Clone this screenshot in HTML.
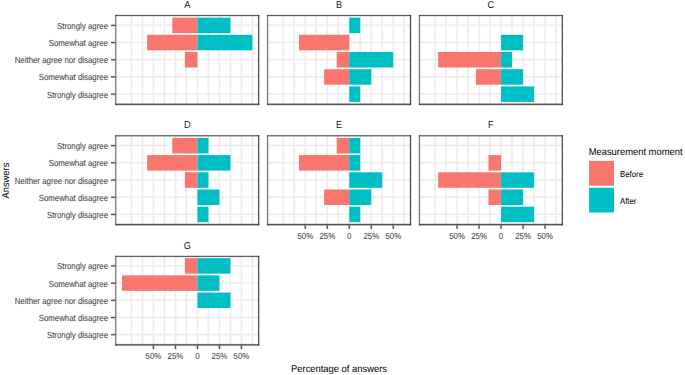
<!DOCTYPE html>
<html><head><meta charset="utf-8"><style>
html,body{margin:0;padding:0;background:#fff;width:685px;height:375px;overflow:hidden}
svg{display:block;font-family:"Liberation Sans",sans-serif;text-rendering:geometricPrecision}
</style></head><body>
<svg width="685" height="375" viewBox="0 0 685 375" shape-rendering="auto">
<rect width="685" height="375" fill="#fff"/>
<rect x="130" y="15.5" width="1" height="88.82" fill="#EBEBEB" fill-opacity="0.375"/><rect x="131" y="15.5" width="1" height="88.82" fill="#EBEBEB" fill-opacity="0.922"/><rect x="132" y="15.5" width="1" height="88.82" fill="#EBEBEB" fill-opacity="0.297"/><rect x="141" y="15.5" width="1" height="88.82" fill="#EBEBEB" fill-opacity="0.375"/><rect x="142" y="15.5" width="1" height="88.82" fill="#EBEBEB" fill-opacity="0.922"/><rect x="143" y="15.5" width="1" height="88.82" fill="#EBEBEB" fill-opacity="0.297"/><rect x="152" y="15.5" width="1" height="88.82" fill="#EBEBEB" fill-opacity="0.375"/><rect x="153" y="15.5" width="1" height="88.82" fill="#EBEBEB" fill-opacity="0.922"/><rect x="154" y="15.5" width="1" height="88.82" fill="#EBEBEB" fill-opacity="0.297"/><rect x="163" y="15.5" width="1" height="88.82" fill="#EBEBEB" fill-opacity="0.375"/><rect x="164" y="15.5" width="1" height="88.82" fill="#EBEBEB" fill-opacity="0.922"/><rect x="165" y="15.5" width="1" height="88.82" fill="#EBEBEB" fill-opacity="0.297"/><rect x="174" y="15.5" width="1" height="88.82" fill="#EBEBEB" fill-opacity="0.375"/><rect x="175" y="15.5" width="1" height="88.82" fill="#EBEBEB" fill-opacity="0.922"/><rect x="176" y="15.5" width="1" height="88.82" fill="#EBEBEB" fill-opacity="0.297"/><rect x="185" y="15.5" width="1" height="88.82" fill="#EBEBEB" fill-opacity="0.375"/><rect x="186" y="15.5" width="1" height="88.82" fill="#EBEBEB" fill-opacity="0.922"/><rect x="187" y="15.5" width="1" height="88.82" fill="#EBEBEB" fill-opacity="0.297"/><rect x="196" y="15.5" width="1" height="88.82" fill="#EBEBEB" fill-opacity="0.375"/><rect x="197" y="15.5" width="1" height="88.82" fill="#EBEBEB" fill-opacity="0.922"/><rect x="198" y="15.5" width="1" height="88.82" fill="#EBEBEB" fill-opacity="0.297"/><rect x="207" y="15.5" width="1" height="88.82" fill="#EBEBEB" fill-opacity="0.375"/><rect x="208" y="15.5" width="1" height="88.82" fill="#EBEBEB" fill-opacity="0.922"/><rect x="209" y="15.5" width="1" height="88.82" fill="#EBEBEB" fill-opacity="0.297"/><rect x="218" y="15.5" width="1" height="88.82" fill="#EBEBEB" fill-opacity="0.375"/><rect x="219" y="15.5" width="1" height="88.82" fill="#EBEBEB" fill-opacity="0.922"/><rect x="220" y="15.5" width="1" height="88.82" fill="#EBEBEB" fill-opacity="0.297"/><rect x="229" y="15.5" width="1" height="88.82" fill="#EBEBEB" fill-opacity="0.375"/><rect x="230" y="15.5" width="1" height="88.82" fill="#EBEBEB" fill-opacity="0.922"/><rect x="231" y="15.5" width="1" height="88.82" fill="#EBEBEB" fill-opacity="0.297"/><rect x="240" y="15.5" width="1" height="88.82" fill="#EBEBEB" fill-opacity="0.375"/><rect x="241" y="15.5" width="1" height="88.82" fill="#EBEBEB" fill-opacity="0.922"/><rect x="242" y="15.5" width="1" height="88.82" fill="#EBEBEB" fill-opacity="0.297"/><rect x="251" y="15.5" width="1" height="88.82" fill="#EBEBEB" fill-opacity="0.375"/><rect x="252" y="15.5" width="1" height="88.82" fill="#EBEBEB" fill-opacity="0.922"/><rect x="253" y="15.5" width="1" height="88.82" fill="#EBEBEB" fill-opacity="0.297"/><rect x="115.79" y="23" width="142.91" height="1" fill="#EBEBEB" fill-opacity="0.022"/><rect x="115.79" y="24" width="142.91" height="1" fill="#EBEBEB" fill-opacity="0.584"/><rect x="115.79" y="25" width="142.91" height="1" fill="#EBEBEB" fill-opacity="0.854"/><rect x="115.79" y="26" width="142.91" height="1" fill="#EBEBEB" fill-opacity="0.139"/><rect x="115.79" y="41" width="142.91" height="1" fill="#EBEBEB" fill-opacity="0.416"/><rect x="115.79" y="42" width="142.91" height="1" fill="#EBEBEB" fill-opacity="0.916"/><rect x="115.79" y="43" width="142.91" height="1" fill="#EBEBEB" fill-opacity="0.260"/><rect x="115.79" y="58" width="142.91" height="1" fill="#EBEBEB" fill-opacity="0.260"/><rect x="115.79" y="59" width="142.91" height="1" fill="#EBEBEB" fill-opacity="0.916"/><rect x="115.79" y="60" width="142.91" height="1" fill="#EBEBEB" fill-opacity="0.416"/><rect x="115.79" y="75" width="142.91" height="1" fill="#EBEBEB" fill-opacity="0.139"/><rect x="115.79" y="76" width="142.91" height="1" fill="#EBEBEB" fill-opacity="0.854"/><rect x="115.79" y="77" width="142.91" height="1" fill="#EBEBEB" fill-opacity="0.584"/><rect x="115.79" y="78" width="142.91" height="1" fill="#EBEBEB" fill-opacity="0.022"/><rect x="115.79" y="92" width="142.91" height="1" fill="#EBEBEB" fill-opacity="0.062"/><rect x="115.79" y="93" width="142.91" height="1" fill="#EBEBEB" fill-opacity="0.738"/><rect x="115.79" y="94" width="142.91" height="1" fill="#EBEBEB" fill-opacity="0.738"/><rect x="115.79" y="95" width="142.91" height="1" fill="#EBEBEB" fill-opacity="0.062"/>
<rect x="172.31" y="17.61" width="25.14" height="15.48" fill="#F8766D"/>
<rect x="197.45" y="17.61" width="33" height="15.48" fill="#00BFC4"/>
<rect x="147.16" y="34.81" width="50.29" height="15.48" fill="#F8766D"/>
<rect x="197.45" y="34.81" width="55" height="15.48" fill="#00BFC4"/>
<rect x="184.88" y="52.01" width="12.57" height="15.48" fill="#F8766D"/>
<rect x="114" y="15" width="1" height="90.02" fill="#333333" fill-opacity="0.024"/><rect x="115" y="15" width="1" height="90.02" fill="#333333" fill-opacity="0.576"/><rect x="116" y="15" width="1" height="90.02" fill="#333333" fill-opacity="0.269"/>
<rect x="257" y="15" width="1" height="90.02" fill="#333333" fill-opacity="0.030"/><rect x="258" y="15" width="1" height="90.02" fill="#333333" fill-opacity="0.827"/><rect x="259" y="15" width="1" height="90.02" fill="#333333" fill-opacity="0.274"/>
<rect x="115.34" y="14" width="143.91" height="1" fill="#333333" fill-opacity="0.105"/><rect x="115.34" y="15" width="143.91" height="1" fill="#333333" fill-opacity="0.810"/><rect x="115.34" y="16" width="143.91" height="1" fill="#333333" fill-opacity="0.105"/>
<rect x="115.34" y="103" width="143.91" height="1" fill="#333333" fill-opacity="0.383"/><rect x="115.34" y="104" width="143.91" height="1" fill="#333333" fill-opacity="0.833"/><rect x="115.34" y="105" width="143.91" height="1" fill="#333333" fill-opacity="0.139"/>
<text transform="translate(187.25,7.95) scale(1,1.1)" text-anchor="middle" font-size="9.2" fill="#1A1A1A">A</text>
<rect x="111" y="24" width="4.39" height="1" fill="#333333" fill-opacity="0.315"/><rect x="111" y="25" width="4.39" height="1" fill="#333333" fill-opacity="0.805"/><rect x="111" y="26" width="4.39" height="1" fill="#333333" fill-opacity="0.127"/>
<text transform="translate(108,28.85) scale(1,1.12)" text-anchor="end" font-size="7.85" fill="#4D4D4D" stroke="#4D4D4D" stroke-width="0.1">Strongly agree</text>
<rect x="111" y="41" width="4.39" height="1" fill="#333333" fill-opacity="0.180"/><rect x="111" y="42" width="4.39" height="1" fill="#333333" fill-opacity="0.826"/><rect x="111" y="43" width="4.39" height="1" fill="#333333" fill-opacity="0.243"/>
<text transform="translate(108,46.05) scale(1,1.12)" text-anchor="end" font-size="7.85" fill="#4D4D4D" stroke="#4D4D4D" stroke-width="0.1">Somewhat agree</text>
<rect x="111" y="58" width="4.39" height="1" fill="#333333" fill-opacity="0.086"/><rect x="111" y="59" width="4.39" height="1" fill="#333333" fill-opacity="0.764"/><rect x="111" y="60" width="4.39" height="1" fill="#333333" fill-opacity="0.395"/>
<text transform="translate(108,63.25) scale(1,1.12)" text-anchor="end" font-size="7.85" fill="#4D4D4D" stroke="#4D4D4D" stroke-width="0.1">Neither agree nor disagree</text>
<rect x="111" y="75" width="4.39" height="1" fill="#333333" fill-opacity="0.033"/><rect x="111" y="76" width="4.39" height="1" fill="#333333" fill-opacity="0.638"/><rect x="111" y="77" width="4.39" height="1" fill="#333333" fill-opacity="0.560"/><rect x="111" y="78" width="4.39" height="1" fill="#333333" fill-opacity="0.019"/>
<text transform="translate(108,80.45) scale(1,1.12)" text-anchor="end" font-size="7.85" fill="#4D4D4D" stroke="#4D4D4D" stroke-width="0.1">Somewhat disagree</text>
<rect x="111" y="92" width="4.39" height="1" fill="#333333" fill-opacity="0.010"/><rect x="111" y="93" width="4.39" height="1" fill="#333333" fill-opacity="0.477"/><rect x="111" y="94" width="4.39" height="1" fill="#333333" fill-opacity="0.708"/><rect x="111" y="95" width="4.39" height="1" fill="#333333" fill-opacity="0.055"/>
<text transform="translate(108,97.65) scale(1,1.12)" text-anchor="end" font-size="7.85" fill="#4D4D4D" stroke="#4D4D4D" stroke-width="0.1">Strongly disagree</text>
<rect x="281" y="15.5" width="1" height="88.82" fill="#EBEBEB" fill-opacity="0.016"/><rect x="282" y="15.5" width="1" height="88.82" fill="#EBEBEB" fill-opacity="0.542"/><rect x="283" y="15.5" width="1" height="88.82" fill="#EBEBEB" fill-opacity="0.875"/><rect x="284" y="15.5" width="1" height="88.82" fill="#EBEBEB" fill-opacity="0.166"/><rect x="292" y="15.5" width="1" height="88.82" fill="#EBEBEB" fill-opacity="0.016"/><rect x="293" y="15.5" width="1" height="88.82" fill="#EBEBEB" fill-opacity="0.542"/><rect x="294" y="15.5" width="1" height="88.82" fill="#EBEBEB" fill-opacity="0.875"/><rect x="295" y="15.5" width="1" height="88.82" fill="#EBEBEB" fill-opacity="0.166"/><rect x="303" y="15.5" width="1" height="88.82" fill="#EBEBEB" fill-opacity="0.016"/><rect x="304" y="15.5" width="1" height="88.82" fill="#EBEBEB" fill-opacity="0.542"/><rect x="305" y="15.5" width="1" height="88.82" fill="#EBEBEB" fill-opacity="0.875"/><rect x="306" y="15.5" width="1" height="88.82" fill="#EBEBEB" fill-opacity="0.166"/><rect x="314" y="15.5" width="1" height="88.82" fill="#EBEBEB" fill-opacity="0.016"/><rect x="315" y="15.5" width="1" height="88.82" fill="#EBEBEB" fill-opacity="0.542"/><rect x="316" y="15.5" width="1" height="88.82" fill="#EBEBEB" fill-opacity="0.875"/><rect x="317" y="15.5" width="1" height="88.82" fill="#EBEBEB" fill-opacity="0.166"/><rect x="325" y="15.5" width="1" height="88.82" fill="#EBEBEB" fill-opacity="0.016"/><rect x="326" y="15.5" width="1" height="88.82" fill="#EBEBEB" fill-opacity="0.542"/><rect x="327" y="15.5" width="1" height="88.82" fill="#EBEBEB" fill-opacity="0.875"/><rect x="328" y="15.5" width="1" height="88.82" fill="#EBEBEB" fill-opacity="0.166"/><rect x="336" y="15.5" width="1" height="88.82" fill="#EBEBEB" fill-opacity="0.016"/><rect x="337" y="15.5" width="1" height="88.82" fill="#EBEBEB" fill-opacity="0.542"/><rect x="338" y="15.5" width="1" height="88.82" fill="#EBEBEB" fill-opacity="0.875"/><rect x="339" y="15.5" width="1" height="88.82" fill="#EBEBEB" fill-opacity="0.166"/><rect x="347" y="15.5" width="1" height="88.82" fill="#EBEBEB" fill-opacity="0.016"/><rect x="348" y="15.5" width="1" height="88.82" fill="#EBEBEB" fill-opacity="0.542"/><rect x="349" y="15.5" width="1" height="88.82" fill="#EBEBEB" fill-opacity="0.875"/><rect x="350" y="15.5" width="1" height="88.82" fill="#EBEBEB" fill-opacity="0.166"/><rect x="358" y="15.5" width="1" height="88.82" fill="#EBEBEB" fill-opacity="0.016"/><rect x="359" y="15.5" width="1" height="88.82" fill="#EBEBEB" fill-opacity="0.542"/><rect x="360" y="15.5" width="1" height="88.82" fill="#EBEBEB" fill-opacity="0.875"/><rect x="361" y="15.5" width="1" height="88.82" fill="#EBEBEB" fill-opacity="0.166"/><rect x="369" y="15.5" width="1" height="88.82" fill="#EBEBEB" fill-opacity="0.016"/><rect x="370" y="15.5" width="1" height="88.82" fill="#EBEBEB" fill-opacity="0.542"/><rect x="371" y="15.5" width="1" height="88.82" fill="#EBEBEB" fill-opacity="0.875"/><rect x="372" y="15.5" width="1" height="88.82" fill="#EBEBEB" fill-opacity="0.166"/><rect x="380" y="15.5" width="1" height="88.82" fill="#EBEBEB" fill-opacity="0.016"/><rect x="381" y="15.5" width="1" height="88.82" fill="#EBEBEB" fill-opacity="0.542"/><rect x="382" y="15.5" width="1" height="88.82" fill="#EBEBEB" fill-opacity="0.875"/><rect x="383" y="15.5" width="1" height="88.82" fill="#EBEBEB" fill-opacity="0.166"/><rect x="391" y="15.5" width="1" height="88.82" fill="#EBEBEB" fill-opacity="0.016"/><rect x="392" y="15.5" width="1" height="88.82" fill="#EBEBEB" fill-opacity="0.542"/><rect x="393" y="15.5" width="1" height="88.82" fill="#EBEBEB" fill-opacity="0.875"/><rect x="394" y="15.5" width="1" height="88.82" fill="#EBEBEB" fill-opacity="0.166"/><rect x="402" y="15.5" width="1" height="88.82" fill="#EBEBEB" fill-opacity="0.016"/><rect x="403" y="15.5" width="1" height="88.82" fill="#EBEBEB" fill-opacity="0.542"/><rect x="404" y="15.5" width="1" height="88.82" fill="#EBEBEB" fill-opacity="0.875"/><rect x="405" y="15.5" width="1" height="88.82" fill="#EBEBEB" fill-opacity="0.166"/><rect x="267.59" y="23" width="142.91" height="1" fill="#EBEBEB" fill-opacity="0.022"/><rect x="267.59" y="24" width="142.91" height="1" fill="#EBEBEB" fill-opacity="0.584"/><rect x="267.59" y="25" width="142.91" height="1" fill="#EBEBEB" fill-opacity="0.854"/><rect x="267.59" y="26" width="142.91" height="1" fill="#EBEBEB" fill-opacity="0.139"/><rect x="267.59" y="41" width="142.91" height="1" fill="#EBEBEB" fill-opacity="0.416"/><rect x="267.59" y="42" width="142.91" height="1" fill="#EBEBEB" fill-opacity="0.916"/><rect x="267.59" y="43" width="142.91" height="1" fill="#EBEBEB" fill-opacity="0.260"/><rect x="267.59" y="58" width="142.91" height="1" fill="#EBEBEB" fill-opacity="0.260"/><rect x="267.59" y="59" width="142.91" height="1" fill="#EBEBEB" fill-opacity="0.916"/><rect x="267.59" y="60" width="142.91" height="1" fill="#EBEBEB" fill-opacity="0.416"/><rect x="267.59" y="75" width="142.91" height="1" fill="#EBEBEB" fill-opacity="0.139"/><rect x="267.59" y="76" width="142.91" height="1" fill="#EBEBEB" fill-opacity="0.854"/><rect x="267.59" y="77" width="142.91" height="1" fill="#EBEBEB" fill-opacity="0.584"/><rect x="267.59" y="78" width="142.91" height="1" fill="#EBEBEB" fill-opacity="0.022"/><rect x="267.59" y="92" width="142.91" height="1" fill="#EBEBEB" fill-opacity="0.062"/><rect x="267.59" y="93" width="142.91" height="1" fill="#EBEBEB" fill-opacity="0.738"/><rect x="267.59" y="94" width="142.91" height="1" fill="#EBEBEB" fill-opacity="0.738"/><rect x="267.59" y="95" width="142.91" height="1" fill="#EBEBEB" fill-opacity="0.062"/>
<rect x="349.25" y="17.61" width="11" height="15.48" fill="#00BFC4"/>
<rect x="298.96" y="34.81" width="50.29" height="15.48" fill="#F8766D"/>
<rect x="336.68" y="52.01" width="12.57" height="15.48" fill="#F8766D"/>
<rect x="349.25" y="52.01" width="44" height="15.48" fill="#00BFC4"/>
<rect x="324.11" y="69.21" width="25.14" height="15.48" fill="#F8766D"/>
<rect x="349.25" y="69.21" width="22" height="15.48" fill="#00BFC4"/>
<rect x="349.25" y="86.41" width="11" height="15.48" fill="#00BFC4"/>
<rect x="266" y="15" width="1" height="90.02" fill="#333333" fill-opacity="0.068"/><rect x="267" y="15" width="1" height="90.02" fill="#333333" fill-opacity="0.658"/><rect x="268" y="15" width="1" height="90.02" fill="#333333" fill-opacity="0.144"/>
<rect x="409" y="15" width="1" height="90.02" fill="#333333" fill-opacity="0.116"/><rect x="410" y="15" width="1" height="90.02" fill="#333333" fill-opacity="0.897"/><rect x="411" y="15" width="1" height="90.02" fill="#333333" fill-opacity="0.116"/>
<rect x="267.14" y="14" width="143.91" height="1" fill="#333333" fill-opacity="0.105"/><rect x="267.14" y="15" width="143.91" height="1" fill="#333333" fill-opacity="0.810"/><rect x="267.14" y="16" width="143.91" height="1" fill="#333333" fill-opacity="0.105"/>
<rect x="267.14" y="103" width="143.91" height="1" fill="#333333" fill-opacity="0.383"/><rect x="267.14" y="104" width="143.91" height="1" fill="#333333" fill-opacity="0.833"/><rect x="267.14" y="105" width="143.91" height="1" fill="#333333" fill-opacity="0.139"/>
<text transform="translate(339.05,7.95) scale(1,1.1)" text-anchor="middle" font-size="9.2" fill="#1A1A1A">B</text>
<rect x="433" y="15.5" width="1" height="88.82" fill="#EBEBEB" fill-opacity="0.049"/><rect x="434" y="15.5" width="1" height="88.82" fill="#EBEBEB" fill-opacity="0.702"/><rect x="435" y="15.5" width="1" height="88.82" fill="#EBEBEB" fill-opacity="0.772"/><rect x="436" y="15.5" width="1" height="88.82" fill="#EBEBEB" fill-opacity="0.077"/><rect x="444" y="15.5" width="1" height="88.82" fill="#EBEBEB" fill-opacity="0.049"/><rect x="445" y="15.5" width="1" height="88.82" fill="#EBEBEB" fill-opacity="0.702"/><rect x="446" y="15.5" width="1" height="88.82" fill="#EBEBEB" fill-opacity="0.772"/><rect x="447" y="15.5" width="1" height="88.82" fill="#EBEBEB" fill-opacity="0.077"/><rect x="455" y="15.5" width="1" height="88.82" fill="#EBEBEB" fill-opacity="0.049"/><rect x="456" y="15.5" width="1" height="88.82" fill="#EBEBEB" fill-opacity="0.702"/><rect x="457" y="15.5" width="1" height="88.82" fill="#EBEBEB" fill-opacity="0.772"/><rect x="458" y="15.5" width="1" height="88.82" fill="#EBEBEB" fill-opacity="0.077"/><rect x="466" y="15.5" width="1" height="88.82" fill="#EBEBEB" fill-opacity="0.049"/><rect x="467" y="15.5" width="1" height="88.82" fill="#EBEBEB" fill-opacity="0.702"/><rect x="468" y="15.5" width="1" height="88.82" fill="#EBEBEB" fill-opacity="0.772"/><rect x="469" y="15.5" width="1" height="88.82" fill="#EBEBEB" fill-opacity="0.077"/><rect x="477" y="15.5" width="1" height="88.82" fill="#EBEBEB" fill-opacity="0.049"/><rect x="478" y="15.5" width="1" height="88.82" fill="#EBEBEB" fill-opacity="0.702"/><rect x="479" y="15.5" width="1" height="88.82" fill="#EBEBEB" fill-opacity="0.772"/><rect x="480" y="15.5" width="1" height="88.82" fill="#EBEBEB" fill-opacity="0.077"/><rect x="488" y="15.5" width="1" height="88.82" fill="#EBEBEB" fill-opacity="0.049"/><rect x="489" y="15.5" width="1" height="88.82" fill="#EBEBEB" fill-opacity="0.702"/><rect x="490" y="15.5" width="1" height="88.82" fill="#EBEBEB" fill-opacity="0.772"/><rect x="491" y="15.5" width="1" height="88.82" fill="#EBEBEB" fill-opacity="0.077"/><rect x="499" y="15.5" width="1" height="88.82" fill="#EBEBEB" fill-opacity="0.049"/><rect x="500" y="15.5" width="1" height="88.82" fill="#EBEBEB" fill-opacity="0.702"/><rect x="501" y="15.5" width="1" height="88.82" fill="#EBEBEB" fill-opacity="0.772"/><rect x="502" y="15.5" width="1" height="88.82" fill="#EBEBEB" fill-opacity="0.077"/><rect x="510" y="15.5" width="1" height="88.82" fill="#EBEBEB" fill-opacity="0.049"/><rect x="511" y="15.5" width="1" height="88.82" fill="#EBEBEB" fill-opacity="0.702"/><rect x="512" y="15.5" width="1" height="88.82" fill="#EBEBEB" fill-opacity="0.772"/><rect x="513" y="15.5" width="1" height="88.82" fill="#EBEBEB" fill-opacity="0.077"/><rect x="521" y="15.5" width="1" height="88.82" fill="#EBEBEB" fill-opacity="0.049"/><rect x="522" y="15.5" width="1" height="88.82" fill="#EBEBEB" fill-opacity="0.702"/><rect x="523" y="15.5" width="1" height="88.82" fill="#EBEBEB" fill-opacity="0.772"/><rect x="524" y="15.5" width="1" height="88.82" fill="#EBEBEB" fill-opacity="0.077"/><rect x="532" y="15.5" width="1" height="88.82" fill="#EBEBEB" fill-opacity="0.049"/><rect x="533" y="15.5" width="1" height="88.82" fill="#EBEBEB" fill-opacity="0.702"/><rect x="534" y="15.5" width="1" height="88.82" fill="#EBEBEB" fill-opacity="0.772"/><rect x="535" y="15.5" width="1" height="88.82" fill="#EBEBEB" fill-opacity="0.077"/><rect x="543" y="15.5" width="1" height="88.82" fill="#EBEBEB" fill-opacity="0.049"/><rect x="544" y="15.5" width="1" height="88.82" fill="#EBEBEB" fill-opacity="0.702"/><rect x="545" y="15.5" width="1" height="88.82" fill="#EBEBEB" fill-opacity="0.772"/><rect x="546" y="15.5" width="1" height="88.82" fill="#EBEBEB" fill-opacity="0.077"/><rect x="554" y="15.5" width="1" height="88.82" fill="#EBEBEB" fill-opacity="0.049"/><rect x="555" y="15.5" width="1" height="88.82" fill="#EBEBEB" fill-opacity="0.702"/><rect x="556" y="15.5" width="1" height="88.82" fill="#EBEBEB" fill-opacity="0.772"/><rect x="557" y="15.5" width="1" height="88.82" fill="#EBEBEB" fill-opacity="0.077"/><rect x="419.39" y="23" width="142.91" height="1" fill="#EBEBEB" fill-opacity="0.022"/><rect x="419.39" y="24" width="142.91" height="1" fill="#EBEBEB" fill-opacity="0.584"/><rect x="419.39" y="25" width="142.91" height="1" fill="#EBEBEB" fill-opacity="0.854"/><rect x="419.39" y="26" width="142.91" height="1" fill="#EBEBEB" fill-opacity="0.139"/><rect x="419.39" y="41" width="142.91" height="1" fill="#EBEBEB" fill-opacity="0.416"/><rect x="419.39" y="42" width="142.91" height="1" fill="#EBEBEB" fill-opacity="0.916"/><rect x="419.39" y="43" width="142.91" height="1" fill="#EBEBEB" fill-opacity="0.260"/><rect x="419.39" y="58" width="142.91" height="1" fill="#EBEBEB" fill-opacity="0.260"/><rect x="419.39" y="59" width="142.91" height="1" fill="#EBEBEB" fill-opacity="0.916"/><rect x="419.39" y="60" width="142.91" height="1" fill="#EBEBEB" fill-opacity="0.416"/><rect x="419.39" y="75" width="142.91" height="1" fill="#EBEBEB" fill-opacity="0.139"/><rect x="419.39" y="76" width="142.91" height="1" fill="#EBEBEB" fill-opacity="0.854"/><rect x="419.39" y="77" width="142.91" height="1" fill="#EBEBEB" fill-opacity="0.584"/><rect x="419.39" y="78" width="142.91" height="1" fill="#EBEBEB" fill-opacity="0.022"/><rect x="419.39" y="92" width="142.91" height="1" fill="#EBEBEB" fill-opacity="0.062"/><rect x="419.39" y="93" width="142.91" height="1" fill="#EBEBEB" fill-opacity="0.738"/><rect x="419.39" y="94" width="142.91" height="1" fill="#EBEBEB" fill-opacity="0.738"/><rect x="419.39" y="95" width="142.91" height="1" fill="#EBEBEB" fill-opacity="0.062"/>
<rect x="501.05" y="34.81" width="22" height="15.48" fill="#00BFC4"/>
<rect x="438.19" y="52.01" width="62.86" height="15.48" fill="#F8766D"/>
<rect x="501.05" y="52.01" width="11" height="15.48" fill="#00BFC4"/>
<rect x="475.91" y="69.21" width="25.14" height="15.48" fill="#F8766D"/>
<rect x="501.05" y="69.21" width="22" height="15.48" fill="#00BFC4"/>
<rect x="501.05" y="86.41" width="33" height="15.48" fill="#00BFC4"/>
<rect x="418" y="15" width="1" height="90.02" fill="#333333" fill-opacity="0.155"/><rect x="419" y="15" width="1" height="90.02" fill="#333333" fill-opacity="0.653"/><rect x="420" y="15" width="1" height="90.02" fill="#333333" fill-opacity="0.062"/>
<rect x="561" y="15" width="1" height="90.02" fill="#333333" fill-opacity="0.274"/><rect x="562" y="15" width="1" height="90.02" fill="#333333" fill-opacity="0.827"/><rect x="563" y="15" width="1" height="90.02" fill="#333333" fill-opacity="0.030"/>
<rect x="418.94" y="14" width="143.91" height="1" fill="#333333" fill-opacity="0.105"/><rect x="418.94" y="15" width="143.91" height="1" fill="#333333" fill-opacity="0.810"/><rect x="418.94" y="16" width="143.91" height="1" fill="#333333" fill-opacity="0.105"/>
<rect x="418.94" y="103" width="143.91" height="1" fill="#333333" fill-opacity="0.383"/><rect x="418.94" y="104" width="143.91" height="1" fill="#333333" fill-opacity="0.833"/><rect x="418.94" y="105" width="143.91" height="1" fill="#333333" fill-opacity="0.139"/>
<text transform="translate(490.84,7.95) scale(1,1.1)" text-anchor="middle" font-size="9.2" fill="#1A1A1A">C</text>
<rect x="130" y="135.8" width="1" height="88.82" fill="#EBEBEB" fill-opacity="0.375"/><rect x="131" y="135.8" width="1" height="88.82" fill="#EBEBEB" fill-opacity="0.922"/><rect x="132" y="135.8" width="1" height="88.82" fill="#EBEBEB" fill-opacity="0.297"/><rect x="141" y="135.8" width="1" height="88.82" fill="#EBEBEB" fill-opacity="0.375"/><rect x="142" y="135.8" width="1" height="88.82" fill="#EBEBEB" fill-opacity="0.922"/><rect x="143" y="135.8" width="1" height="88.82" fill="#EBEBEB" fill-opacity="0.297"/><rect x="152" y="135.8" width="1" height="88.82" fill="#EBEBEB" fill-opacity="0.375"/><rect x="153" y="135.8" width="1" height="88.82" fill="#EBEBEB" fill-opacity="0.922"/><rect x="154" y="135.8" width="1" height="88.82" fill="#EBEBEB" fill-opacity="0.297"/><rect x="163" y="135.8" width="1" height="88.82" fill="#EBEBEB" fill-opacity="0.375"/><rect x="164" y="135.8" width="1" height="88.82" fill="#EBEBEB" fill-opacity="0.922"/><rect x="165" y="135.8" width="1" height="88.82" fill="#EBEBEB" fill-opacity="0.297"/><rect x="174" y="135.8" width="1" height="88.82" fill="#EBEBEB" fill-opacity="0.375"/><rect x="175" y="135.8" width="1" height="88.82" fill="#EBEBEB" fill-opacity="0.922"/><rect x="176" y="135.8" width="1" height="88.82" fill="#EBEBEB" fill-opacity="0.297"/><rect x="185" y="135.8" width="1" height="88.82" fill="#EBEBEB" fill-opacity="0.375"/><rect x="186" y="135.8" width="1" height="88.82" fill="#EBEBEB" fill-opacity="0.922"/><rect x="187" y="135.8" width="1" height="88.82" fill="#EBEBEB" fill-opacity="0.297"/><rect x="196" y="135.8" width="1" height="88.82" fill="#EBEBEB" fill-opacity="0.375"/><rect x="197" y="135.8" width="1" height="88.82" fill="#EBEBEB" fill-opacity="0.922"/><rect x="198" y="135.8" width="1" height="88.82" fill="#EBEBEB" fill-opacity="0.297"/><rect x="207" y="135.8" width="1" height="88.82" fill="#EBEBEB" fill-opacity="0.375"/><rect x="208" y="135.8" width="1" height="88.82" fill="#EBEBEB" fill-opacity="0.922"/><rect x="209" y="135.8" width="1" height="88.82" fill="#EBEBEB" fill-opacity="0.297"/><rect x="218" y="135.8" width="1" height="88.82" fill="#EBEBEB" fill-opacity="0.375"/><rect x="219" y="135.8" width="1" height="88.82" fill="#EBEBEB" fill-opacity="0.922"/><rect x="220" y="135.8" width="1" height="88.82" fill="#EBEBEB" fill-opacity="0.297"/><rect x="229" y="135.8" width="1" height="88.82" fill="#EBEBEB" fill-opacity="0.375"/><rect x="230" y="135.8" width="1" height="88.82" fill="#EBEBEB" fill-opacity="0.922"/><rect x="231" y="135.8" width="1" height="88.82" fill="#EBEBEB" fill-opacity="0.297"/><rect x="240" y="135.8" width="1" height="88.82" fill="#EBEBEB" fill-opacity="0.375"/><rect x="241" y="135.8" width="1" height="88.82" fill="#EBEBEB" fill-opacity="0.922"/><rect x="242" y="135.8" width="1" height="88.82" fill="#EBEBEB" fill-opacity="0.297"/><rect x="251" y="135.8" width="1" height="88.82" fill="#EBEBEB" fill-opacity="0.375"/><rect x="252" y="135.8" width="1" height="88.82" fill="#EBEBEB" fill-opacity="0.922"/><rect x="253" y="135.8" width="1" height="88.82" fill="#EBEBEB" fill-opacity="0.297"/><rect x="115.79" y="144" width="142.91" height="1" fill="#EBEBEB" fill-opacity="0.335"/><rect x="115.79" y="145" width="142.91" height="1" fill="#EBEBEB" fill-opacity="0.924"/><rect x="115.79" y="146" width="142.91" height="1" fill="#EBEBEB" fill-opacity="0.335"/><rect x="115.79" y="161" width="142.91" height="1" fill="#EBEBEB" fill-opacity="0.195"/><rect x="115.79" y="162" width="142.91" height="1" fill="#EBEBEB" fill-opacity="0.893"/><rect x="115.79" y="163" width="142.91" height="1" fill="#EBEBEB" fill-opacity="0.500"/><rect x="115.79" y="164" width="142.91" height="1" fill="#EBEBEB" fill-opacity="0.012"/><rect x="115.79" y="178" width="142.91" height="1" fill="#EBEBEB" fill-opacity="0.095"/><rect x="115.79" y="179" width="142.91" height="1" fill="#EBEBEB" fill-opacity="0.802"/><rect x="115.79" y="180" width="142.91" height="1" fill="#EBEBEB" fill-opacity="0.664"/><rect x="115.79" y="181" width="142.91" height="1" fill="#EBEBEB" fill-opacity="0.038"/><rect x="115.79" y="195" width="142.91" height="1" fill="#EBEBEB" fill-opacity="0.038"/><rect x="115.79" y="196" width="142.91" height="1" fill="#EBEBEB" fill-opacity="0.664"/><rect x="115.79" y="197" width="142.91" height="1" fill="#EBEBEB" fill-opacity="0.802"/><rect x="115.79" y="198" width="142.91" height="1" fill="#EBEBEB" fill-opacity="0.095"/><rect x="115.79" y="212" width="142.91" height="1" fill="#EBEBEB" fill-opacity="0.012"/><rect x="115.79" y="213" width="142.91" height="1" fill="#EBEBEB" fill-opacity="0.500"/><rect x="115.79" y="214" width="142.91" height="1" fill="#EBEBEB" fill-opacity="0.893"/><rect x="115.79" y="215" width="142.91" height="1" fill="#EBEBEB" fill-opacity="0.195"/>
<rect x="172.31" y="137.91" width="25.14" height="15.48" fill="#F8766D"/>
<rect x="197.45" y="137.91" width="11" height="15.48" fill="#00BFC4"/>
<rect x="147.16" y="155.11" width="50.29" height="15.48" fill="#F8766D"/>
<rect x="197.45" y="155.11" width="33" height="15.48" fill="#00BFC4"/>
<rect x="184.88" y="172.31" width="12.57" height="15.48" fill="#F8766D"/>
<rect x="197.45" y="172.31" width="11" height="15.48" fill="#00BFC4"/>
<rect x="197.45" y="189.51" width="22" height="15.48" fill="#00BFC4"/>
<rect x="197.45" y="206.71" width="11" height="15.48" fill="#00BFC4"/>
<rect x="114" y="135.3" width="1" height="90.02" fill="#333333" fill-opacity="0.024"/><rect x="115" y="135.3" width="1" height="90.02" fill="#333333" fill-opacity="0.576"/><rect x="116" y="135.3" width="1" height="90.02" fill="#333333" fill-opacity="0.269"/>
<rect x="257" y="135.3" width="1" height="90.02" fill="#333333" fill-opacity="0.030"/><rect x="258" y="135.3" width="1" height="90.02" fill="#333333" fill-opacity="0.827"/><rect x="259" y="135.3" width="1" height="90.02" fill="#333333" fill-opacity="0.274"/>
<rect x="115.34" y="134" width="143.91" height="1" fill="#333333" fill-opacity="0.015"/><rect x="115.34" y="135" width="143.91" height="1" fill="#333333" fill-opacity="0.682"/><rect x="115.34" y="136" width="143.91" height="1" fill="#333333" fill-opacity="0.323"/>
<rect x="115.34" y="223" width="143.91" height="1" fill="#333333" fill-opacity="0.171"/><rect x="115.34" y="224" width="143.91" height="1" fill="#333333" fill-opacity="0.850"/><rect x="115.34" y="225" width="143.91" height="1" fill="#333333" fill-opacity="0.335"/>
<text transform="translate(187.25,128.25) scale(1,1.1)" text-anchor="middle" font-size="9.2" fill="#1A1A1A">D</text>
<rect x="111" y="144" width="4.39" height="1" fill="#333333" fill-opacity="0.127"/><rect x="111" y="145" width="4.39" height="1" fill="#333333" fill-opacity="0.805"/><rect x="111" y="146" width="4.39" height="1" fill="#333333" fill-opacity="0.315"/>
<text transform="translate(108,149.15) scale(1,1.12)" text-anchor="end" font-size="7.85" fill="#4D4D4D" stroke="#4D4D4D" stroke-width="0.1">Strongly agree</text>
<rect x="111" y="161" width="4.39" height="1" fill="#333333" fill-opacity="0.055"/><rect x="111" y="162" width="4.39" height="1" fill="#333333" fill-opacity="0.708"/><rect x="111" y="163" width="4.39" height="1" fill="#333333" fill-opacity="0.477"/><rect x="111" y="164" width="4.39" height="1" fill="#333333" fill-opacity="0.010"/>
<text transform="translate(108,166.35) scale(1,1.12)" text-anchor="end" font-size="7.85" fill="#4D4D4D" stroke="#4D4D4D" stroke-width="0.1">Somewhat agree</text>
<rect x="111" y="178" width="4.39" height="1" fill="#333333" fill-opacity="0.019"/><rect x="111" y="179" width="4.39" height="1" fill="#333333" fill-opacity="0.560"/><rect x="111" y="180" width="4.39" height="1" fill="#333333" fill-opacity="0.638"/><rect x="111" y="181" width="4.39" height="1" fill="#333333" fill-opacity="0.033"/>
<text transform="translate(108,183.55) scale(1,1.12)" text-anchor="end" font-size="7.85" fill="#4D4D4D" stroke="#4D4D4D" stroke-width="0.1">Neither agree nor disagree</text>
<rect x="111" y="196" width="4.39" height="1" fill="#333333" fill-opacity="0.395"/><rect x="111" y="197" width="4.39" height="1" fill="#333333" fill-opacity="0.764"/><rect x="111" y="198" width="4.39" height="1" fill="#333333" fill-opacity="0.086"/>
<text transform="translate(108,200.75) scale(1,1.12)" text-anchor="end" font-size="7.85" fill="#4D4D4D" stroke="#4D4D4D" stroke-width="0.1">Somewhat disagree</text>
<rect x="111" y="213" width="4.39" height="1" fill="#333333" fill-opacity="0.243"/><rect x="111" y="214" width="4.39" height="1" fill="#333333" fill-opacity="0.826"/><rect x="111" y="215" width="4.39" height="1" fill="#333333" fill-opacity="0.180"/>
<text transform="translate(108,217.95) scale(1,1.12)" text-anchor="end" font-size="7.85" fill="#4D4D4D" stroke="#4D4D4D" stroke-width="0.1">Strongly disagree</text>
<rect x="281" y="135.8" width="1" height="88.82" fill="#EBEBEB" fill-opacity="0.016"/><rect x="282" y="135.8" width="1" height="88.82" fill="#EBEBEB" fill-opacity="0.542"/><rect x="283" y="135.8" width="1" height="88.82" fill="#EBEBEB" fill-opacity="0.875"/><rect x="284" y="135.8" width="1" height="88.82" fill="#EBEBEB" fill-opacity="0.166"/><rect x="292" y="135.8" width="1" height="88.82" fill="#EBEBEB" fill-opacity="0.016"/><rect x="293" y="135.8" width="1" height="88.82" fill="#EBEBEB" fill-opacity="0.542"/><rect x="294" y="135.8" width="1" height="88.82" fill="#EBEBEB" fill-opacity="0.875"/><rect x="295" y="135.8" width="1" height="88.82" fill="#EBEBEB" fill-opacity="0.166"/><rect x="303" y="135.8" width="1" height="88.82" fill="#EBEBEB" fill-opacity="0.016"/><rect x="304" y="135.8" width="1" height="88.82" fill="#EBEBEB" fill-opacity="0.542"/><rect x="305" y="135.8" width="1" height="88.82" fill="#EBEBEB" fill-opacity="0.875"/><rect x="306" y="135.8" width="1" height="88.82" fill="#EBEBEB" fill-opacity="0.166"/><rect x="314" y="135.8" width="1" height="88.82" fill="#EBEBEB" fill-opacity="0.016"/><rect x="315" y="135.8" width="1" height="88.82" fill="#EBEBEB" fill-opacity="0.542"/><rect x="316" y="135.8" width="1" height="88.82" fill="#EBEBEB" fill-opacity="0.875"/><rect x="317" y="135.8" width="1" height="88.82" fill="#EBEBEB" fill-opacity="0.166"/><rect x="325" y="135.8" width="1" height="88.82" fill="#EBEBEB" fill-opacity="0.016"/><rect x="326" y="135.8" width="1" height="88.82" fill="#EBEBEB" fill-opacity="0.542"/><rect x="327" y="135.8" width="1" height="88.82" fill="#EBEBEB" fill-opacity="0.875"/><rect x="328" y="135.8" width="1" height="88.82" fill="#EBEBEB" fill-opacity="0.166"/><rect x="336" y="135.8" width="1" height="88.82" fill="#EBEBEB" fill-opacity="0.016"/><rect x="337" y="135.8" width="1" height="88.82" fill="#EBEBEB" fill-opacity="0.542"/><rect x="338" y="135.8" width="1" height="88.82" fill="#EBEBEB" fill-opacity="0.875"/><rect x="339" y="135.8" width="1" height="88.82" fill="#EBEBEB" fill-opacity="0.166"/><rect x="347" y="135.8" width="1" height="88.82" fill="#EBEBEB" fill-opacity="0.016"/><rect x="348" y="135.8" width="1" height="88.82" fill="#EBEBEB" fill-opacity="0.542"/><rect x="349" y="135.8" width="1" height="88.82" fill="#EBEBEB" fill-opacity="0.875"/><rect x="350" y="135.8" width="1" height="88.82" fill="#EBEBEB" fill-opacity="0.166"/><rect x="358" y="135.8" width="1" height="88.82" fill="#EBEBEB" fill-opacity="0.016"/><rect x="359" y="135.8" width="1" height="88.82" fill="#EBEBEB" fill-opacity="0.542"/><rect x="360" y="135.8" width="1" height="88.82" fill="#EBEBEB" fill-opacity="0.875"/><rect x="361" y="135.8" width="1" height="88.82" fill="#EBEBEB" fill-opacity="0.166"/><rect x="369" y="135.8" width="1" height="88.82" fill="#EBEBEB" fill-opacity="0.016"/><rect x="370" y="135.8" width="1" height="88.82" fill="#EBEBEB" fill-opacity="0.542"/><rect x="371" y="135.8" width="1" height="88.82" fill="#EBEBEB" fill-opacity="0.875"/><rect x="372" y="135.8" width="1" height="88.82" fill="#EBEBEB" fill-opacity="0.166"/><rect x="380" y="135.8" width="1" height="88.82" fill="#EBEBEB" fill-opacity="0.016"/><rect x="381" y="135.8" width="1" height="88.82" fill="#EBEBEB" fill-opacity="0.542"/><rect x="382" y="135.8" width="1" height="88.82" fill="#EBEBEB" fill-opacity="0.875"/><rect x="383" y="135.8" width="1" height="88.82" fill="#EBEBEB" fill-opacity="0.166"/><rect x="391" y="135.8" width="1" height="88.82" fill="#EBEBEB" fill-opacity="0.016"/><rect x="392" y="135.8" width="1" height="88.82" fill="#EBEBEB" fill-opacity="0.542"/><rect x="393" y="135.8" width="1" height="88.82" fill="#EBEBEB" fill-opacity="0.875"/><rect x="394" y="135.8" width="1" height="88.82" fill="#EBEBEB" fill-opacity="0.166"/><rect x="402" y="135.8" width="1" height="88.82" fill="#EBEBEB" fill-opacity="0.016"/><rect x="403" y="135.8" width="1" height="88.82" fill="#EBEBEB" fill-opacity="0.542"/><rect x="404" y="135.8" width="1" height="88.82" fill="#EBEBEB" fill-opacity="0.875"/><rect x="405" y="135.8" width="1" height="88.82" fill="#EBEBEB" fill-opacity="0.166"/><rect x="267.59" y="144" width="142.91" height="1" fill="#EBEBEB" fill-opacity="0.335"/><rect x="267.59" y="145" width="142.91" height="1" fill="#EBEBEB" fill-opacity="0.924"/><rect x="267.59" y="146" width="142.91" height="1" fill="#EBEBEB" fill-opacity="0.335"/><rect x="267.59" y="161" width="142.91" height="1" fill="#EBEBEB" fill-opacity="0.195"/><rect x="267.59" y="162" width="142.91" height="1" fill="#EBEBEB" fill-opacity="0.893"/><rect x="267.59" y="163" width="142.91" height="1" fill="#EBEBEB" fill-opacity="0.500"/><rect x="267.59" y="164" width="142.91" height="1" fill="#EBEBEB" fill-opacity="0.012"/><rect x="267.59" y="178" width="142.91" height="1" fill="#EBEBEB" fill-opacity="0.095"/><rect x="267.59" y="179" width="142.91" height="1" fill="#EBEBEB" fill-opacity="0.802"/><rect x="267.59" y="180" width="142.91" height="1" fill="#EBEBEB" fill-opacity="0.664"/><rect x="267.59" y="181" width="142.91" height="1" fill="#EBEBEB" fill-opacity="0.038"/><rect x="267.59" y="195" width="142.91" height="1" fill="#EBEBEB" fill-opacity="0.038"/><rect x="267.59" y="196" width="142.91" height="1" fill="#EBEBEB" fill-opacity="0.664"/><rect x="267.59" y="197" width="142.91" height="1" fill="#EBEBEB" fill-opacity="0.802"/><rect x="267.59" y="198" width="142.91" height="1" fill="#EBEBEB" fill-opacity="0.095"/><rect x="267.59" y="212" width="142.91" height="1" fill="#EBEBEB" fill-opacity="0.012"/><rect x="267.59" y="213" width="142.91" height="1" fill="#EBEBEB" fill-opacity="0.500"/><rect x="267.59" y="214" width="142.91" height="1" fill="#EBEBEB" fill-opacity="0.893"/><rect x="267.59" y="215" width="142.91" height="1" fill="#EBEBEB" fill-opacity="0.195"/>
<rect x="336.68" y="137.91" width="12.57" height="15.48" fill="#F8766D"/>
<rect x="349.25" y="137.91" width="11" height="15.48" fill="#00BFC4"/>
<rect x="298.96" y="155.11" width="50.29" height="15.48" fill="#F8766D"/>
<rect x="349.25" y="155.11" width="11" height="15.48" fill="#00BFC4"/>
<rect x="349.25" y="172.31" width="33" height="15.48" fill="#00BFC4"/>
<rect x="324.11" y="189.51" width="25.14" height="15.48" fill="#F8766D"/>
<rect x="349.25" y="189.51" width="22" height="15.48" fill="#00BFC4"/>
<rect x="349.25" y="206.71" width="11" height="15.48" fill="#00BFC4"/>
<rect x="266" y="135.3" width="1" height="90.02" fill="#333333" fill-opacity="0.068"/><rect x="267" y="135.3" width="1" height="90.02" fill="#333333" fill-opacity="0.658"/><rect x="268" y="135.3" width="1" height="90.02" fill="#333333" fill-opacity="0.144"/>
<rect x="409" y="135.3" width="1" height="90.02" fill="#333333" fill-opacity="0.116"/><rect x="410" y="135.3" width="1" height="90.02" fill="#333333" fill-opacity="0.897"/><rect x="411" y="135.3" width="1" height="90.02" fill="#333333" fill-opacity="0.116"/>
<rect x="267.14" y="134" width="143.91" height="1" fill="#333333" fill-opacity="0.015"/><rect x="267.14" y="135" width="143.91" height="1" fill="#333333" fill-opacity="0.682"/><rect x="267.14" y="136" width="143.91" height="1" fill="#333333" fill-opacity="0.323"/>
<rect x="267.14" y="223" width="143.91" height="1" fill="#333333" fill-opacity="0.171"/><rect x="267.14" y="224" width="143.91" height="1" fill="#333333" fill-opacity="0.850"/><rect x="267.14" y="225" width="143.91" height="1" fill="#333333" fill-opacity="0.335"/>
<text transform="translate(339.05,128.25) scale(1,1.1)" text-anchor="middle" font-size="9.2" fill="#1A1A1A">E</text>
<rect x="304" y="225.22" width="1" height="3.7" fill="#333333" fill-opacity="0.395"/><rect x="305" y="225.22" width="1" height="3.7" fill="#333333" fill-opacity="0.764"/><rect x="306" y="225.22" width="1" height="3.7" fill="#333333" fill-opacity="0.086"/>
<text transform="translate(305.25,238.92) scale(1,1.12)" text-anchor="middle" font-size="7.85" fill="#4D4D4D" stroke="#4D4D4D" stroke-width="0.1">50%</text>
<rect x="326" y="225.22" width="1" height="3.7" fill="#333333" fill-opacity="0.395"/><rect x="327" y="225.22" width="1" height="3.7" fill="#333333" fill-opacity="0.764"/><rect x="328" y="225.22" width="1" height="3.7" fill="#333333" fill-opacity="0.086"/>
<text transform="translate(327.25,238.92) scale(1,1.12)" text-anchor="middle" font-size="7.85" fill="#4D4D4D" stroke="#4D4D4D" stroke-width="0.1">25%</text>
<rect x="348" y="225.22" width="1" height="3.7" fill="#333333" fill-opacity="0.395"/><rect x="349" y="225.22" width="1" height="3.7" fill="#333333" fill-opacity="0.764"/><rect x="350" y="225.22" width="1" height="3.7" fill="#333333" fill-opacity="0.086"/>
<text transform="translate(349.25,238.92) scale(1,1.12)" text-anchor="middle" font-size="7.85" fill="#4D4D4D" stroke="#4D4D4D" stroke-width="0.1">0</text>
<rect x="370" y="225.22" width="1" height="3.7" fill="#333333" fill-opacity="0.395"/><rect x="371" y="225.22" width="1" height="3.7" fill="#333333" fill-opacity="0.764"/><rect x="372" y="225.22" width="1" height="3.7" fill="#333333" fill-opacity="0.086"/>
<text transform="translate(371.25,238.92) scale(1,1.12)" text-anchor="middle" font-size="7.85" fill="#4D4D4D" stroke="#4D4D4D" stroke-width="0.1">25%</text>
<rect x="392" y="225.22" width="1" height="3.7" fill="#333333" fill-opacity="0.395"/><rect x="393" y="225.22" width="1" height="3.7" fill="#333333" fill-opacity="0.764"/><rect x="394" y="225.22" width="1" height="3.7" fill="#333333" fill-opacity="0.086"/>
<text transform="translate(393.25,238.92) scale(1,1.12)" text-anchor="middle" font-size="7.85" fill="#4D4D4D" stroke="#4D4D4D" stroke-width="0.1">50%</text>
<rect x="433" y="135.8" width="1" height="88.82" fill="#EBEBEB" fill-opacity="0.049"/><rect x="434" y="135.8" width="1" height="88.82" fill="#EBEBEB" fill-opacity="0.702"/><rect x="435" y="135.8" width="1" height="88.82" fill="#EBEBEB" fill-opacity="0.772"/><rect x="436" y="135.8" width="1" height="88.82" fill="#EBEBEB" fill-opacity="0.077"/><rect x="444" y="135.8" width="1" height="88.82" fill="#EBEBEB" fill-opacity="0.049"/><rect x="445" y="135.8" width="1" height="88.82" fill="#EBEBEB" fill-opacity="0.702"/><rect x="446" y="135.8" width="1" height="88.82" fill="#EBEBEB" fill-opacity="0.772"/><rect x="447" y="135.8" width="1" height="88.82" fill="#EBEBEB" fill-opacity="0.077"/><rect x="455" y="135.8" width="1" height="88.82" fill="#EBEBEB" fill-opacity="0.049"/><rect x="456" y="135.8" width="1" height="88.82" fill="#EBEBEB" fill-opacity="0.702"/><rect x="457" y="135.8" width="1" height="88.82" fill="#EBEBEB" fill-opacity="0.772"/><rect x="458" y="135.8" width="1" height="88.82" fill="#EBEBEB" fill-opacity="0.077"/><rect x="466" y="135.8" width="1" height="88.82" fill="#EBEBEB" fill-opacity="0.049"/><rect x="467" y="135.8" width="1" height="88.82" fill="#EBEBEB" fill-opacity="0.702"/><rect x="468" y="135.8" width="1" height="88.82" fill="#EBEBEB" fill-opacity="0.772"/><rect x="469" y="135.8" width="1" height="88.82" fill="#EBEBEB" fill-opacity="0.077"/><rect x="477" y="135.8" width="1" height="88.82" fill="#EBEBEB" fill-opacity="0.049"/><rect x="478" y="135.8" width="1" height="88.82" fill="#EBEBEB" fill-opacity="0.702"/><rect x="479" y="135.8" width="1" height="88.82" fill="#EBEBEB" fill-opacity="0.772"/><rect x="480" y="135.8" width="1" height="88.82" fill="#EBEBEB" fill-opacity="0.077"/><rect x="488" y="135.8" width="1" height="88.82" fill="#EBEBEB" fill-opacity="0.049"/><rect x="489" y="135.8" width="1" height="88.82" fill="#EBEBEB" fill-opacity="0.702"/><rect x="490" y="135.8" width="1" height="88.82" fill="#EBEBEB" fill-opacity="0.772"/><rect x="491" y="135.8" width="1" height="88.82" fill="#EBEBEB" fill-opacity="0.077"/><rect x="499" y="135.8" width="1" height="88.82" fill="#EBEBEB" fill-opacity="0.049"/><rect x="500" y="135.8" width="1" height="88.82" fill="#EBEBEB" fill-opacity="0.702"/><rect x="501" y="135.8" width="1" height="88.82" fill="#EBEBEB" fill-opacity="0.772"/><rect x="502" y="135.8" width="1" height="88.82" fill="#EBEBEB" fill-opacity="0.077"/><rect x="510" y="135.8" width="1" height="88.82" fill="#EBEBEB" fill-opacity="0.049"/><rect x="511" y="135.8" width="1" height="88.82" fill="#EBEBEB" fill-opacity="0.702"/><rect x="512" y="135.8" width="1" height="88.82" fill="#EBEBEB" fill-opacity="0.772"/><rect x="513" y="135.8" width="1" height="88.82" fill="#EBEBEB" fill-opacity="0.077"/><rect x="521" y="135.8" width="1" height="88.82" fill="#EBEBEB" fill-opacity="0.049"/><rect x="522" y="135.8" width="1" height="88.82" fill="#EBEBEB" fill-opacity="0.702"/><rect x="523" y="135.8" width="1" height="88.82" fill="#EBEBEB" fill-opacity="0.772"/><rect x="524" y="135.8" width="1" height="88.82" fill="#EBEBEB" fill-opacity="0.077"/><rect x="532" y="135.8" width="1" height="88.82" fill="#EBEBEB" fill-opacity="0.049"/><rect x="533" y="135.8" width="1" height="88.82" fill="#EBEBEB" fill-opacity="0.702"/><rect x="534" y="135.8" width="1" height="88.82" fill="#EBEBEB" fill-opacity="0.772"/><rect x="535" y="135.8" width="1" height="88.82" fill="#EBEBEB" fill-opacity="0.077"/><rect x="543" y="135.8" width="1" height="88.82" fill="#EBEBEB" fill-opacity="0.049"/><rect x="544" y="135.8" width="1" height="88.82" fill="#EBEBEB" fill-opacity="0.702"/><rect x="545" y="135.8" width="1" height="88.82" fill="#EBEBEB" fill-opacity="0.772"/><rect x="546" y="135.8" width="1" height="88.82" fill="#EBEBEB" fill-opacity="0.077"/><rect x="554" y="135.8" width="1" height="88.82" fill="#EBEBEB" fill-opacity="0.049"/><rect x="555" y="135.8" width="1" height="88.82" fill="#EBEBEB" fill-opacity="0.702"/><rect x="556" y="135.8" width="1" height="88.82" fill="#EBEBEB" fill-opacity="0.772"/><rect x="557" y="135.8" width="1" height="88.82" fill="#EBEBEB" fill-opacity="0.077"/><rect x="419.39" y="144" width="142.91" height="1" fill="#EBEBEB" fill-opacity="0.335"/><rect x="419.39" y="145" width="142.91" height="1" fill="#EBEBEB" fill-opacity="0.924"/><rect x="419.39" y="146" width="142.91" height="1" fill="#EBEBEB" fill-opacity="0.335"/><rect x="419.39" y="161" width="142.91" height="1" fill="#EBEBEB" fill-opacity="0.195"/><rect x="419.39" y="162" width="142.91" height="1" fill="#EBEBEB" fill-opacity="0.893"/><rect x="419.39" y="163" width="142.91" height="1" fill="#EBEBEB" fill-opacity="0.500"/><rect x="419.39" y="164" width="142.91" height="1" fill="#EBEBEB" fill-opacity="0.012"/><rect x="419.39" y="178" width="142.91" height="1" fill="#EBEBEB" fill-opacity="0.095"/><rect x="419.39" y="179" width="142.91" height="1" fill="#EBEBEB" fill-opacity="0.802"/><rect x="419.39" y="180" width="142.91" height="1" fill="#EBEBEB" fill-opacity="0.664"/><rect x="419.39" y="181" width="142.91" height="1" fill="#EBEBEB" fill-opacity="0.038"/><rect x="419.39" y="195" width="142.91" height="1" fill="#EBEBEB" fill-opacity="0.038"/><rect x="419.39" y="196" width="142.91" height="1" fill="#EBEBEB" fill-opacity="0.664"/><rect x="419.39" y="197" width="142.91" height="1" fill="#EBEBEB" fill-opacity="0.802"/><rect x="419.39" y="198" width="142.91" height="1" fill="#EBEBEB" fill-opacity="0.095"/><rect x="419.39" y="212" width="142.91" height="1" fill="#EBEBEB" fill-opacity="0.012"/><rect x="419.39" y="213" width="142.91" height="1" fill="#EBEBEB" fill-opacity="0.500"/><rect x="419.39" y="214" width="142.91" height="1" fill="#EBEBEB" fill-opacity="0.893"/><rect x="419.39" y="215" width="142.91" height="1" fill="#EBEBEB" fill-opacity="0.195"/>
<rect x="488.48" y="155.11" width="12.57" height="15.48" fill="#F8766D"/>
<rect x="438.19" y="172.31" width="62.86" height="15.48" fill="#F8766D"/>
<rect x="501.05" y="172.31" width="33" height="15.48" fill="#00BFC4"/>
<rect x="488.48" y="189.51" width="12.57" height="15.48" fill="#F8766D"/>
<rect x="501.05" y="189.51" width="22" height="15.48" fill="#00BFC4"/>
<rect x="501.05" y="206.71" width="33" height="15.48" fill="#00BFC4"/>
<rect x="418" y="135.3" width="1" height="90.02" fill="#333333" fill-opacity="0.155"/><rect x="419" y="135.3" width="1" height="90.02" fill="#333333" fill-opacity="0.653"/><rect x="420" y="135.3" width="1" height="90.02" fill="#333333" fill-opacity="0.062"/>
<rect x="561" y="135.3" width="1" height="90.02" fill="#333333" fill-opacity="0.274"/><rect x="562" y="135.3" width="1" height="90.02" fill="#333333" fill-opacity="0.827"/><rect x="563" y="135.3" width="1" height="90.02" fill="#333333" fill-opacity="0.030"/>
<rect x="418.94" y="134" width="143.91" height="1" fill="#333333" fill-opacity="0.015"/><rect x="418.94" y="135" width="143.91" height="1" fill="#333333" fill-opacity="0.682"/><rect x="418.94" y="136" width="143.91" height="1" fill="#333333" fill-opacity="0.323"/>
<rect x="418.94" y="223" width="143.91" height="1" fill="#333333" fill-opacity="0.171"/><rect x="418.94" y="224" width="143.91" height="1" fill="#333333" fill-opacity="0.850"/><rect x="418.94" y="225" width="143.91" height="1" fill="#333333" fill-opacity="0.335"/>
<text transform="translate(490.84,128.25) scale(1,1.1)" text-anchor="middle" font-size="9.2" fill="#1A1A1A">F</text>
<rect x="455" y="225.22" width="1" height="3.7" fill="#333333" fill-opacity="0.019"/><rect x="456" y="225.22" width="1" height="3.7" fill="#333333" fill-opacity="0.560"/><rect x="457" y="225.22" width="1" height="3.7" fill="#333333" fill-opacity="0.638"/><rect x="458" y="225.22" width="1" height="3.7" fill="#333333" fill-opacity="0.033"/>
<text transform="translate(457.05,238.92) scale(1,1.12)" text-anchor="middle" font-size="7.85" fill="#4D4D4D" stroke="#4D4D4D" stroke-width="0.1">50%</text>
<rect x="477" y="225.22" width="1" height="3.7" fill="#333333" fill-opacity="0.019"/><rect x="478" y="225.22" width="1" height="3.7" fill="#333333" fill-opacity="0.560"/><rect x="479" y="225.22" width="1" height="3.7" fill="#333333" fill-opacity="0.638"/><rect x="480" y="225.22" width="1" height="3.7" fill="#333333" fill-opacity="0.033"/>
<text transform="translate(479.05,238.92) scale(1,1.12)" text-anchor="middle" font-size="7.85" fill="#4D4D4D" stroke="#4D4D4D" stroke-width="0.1">25%</text>
<rect x="499" y="225.22" width="1" height="3.7" fill="#333333" fill-opacity="0.019"/><rect x="500" y="225.22" width="1" height="3.7" fill="#333333" fill-opacity="0.560"/><rect x="501" y="225.22" width="1" height="3.7" fill="#333333" fill-opacity="0.638"/><rect x="502" y="225.22" width="1" height="3.7" fill="#333333" fill-opacity="0.033"/>
<text transform="translate(501.05,238.92) scale(1,1.12)" text-anchor="middle" font-size="7.85" fill="#4D4D4D" stroke="#4D4D4D" stroke-width="0.1">0</text>
<rect x="521" y="225.22" width="1" height="3.7" fill="#333333" fill-opacity="0.019"/><rect x="522" y="225.22" width="1" height="3.7" fill="#333333" fill-opacity="0.560"/><rect x="523" y="225.22" width="1" height="3.7" fill="#333333" fill-opacity="0.638"/><rect x="524" y="225.22" width="1" height="3.7" fill="#333333" fill-opacity="0.033"/>
<text transform="translate(523.05,238.92) scale(1,1.12)" text-anchor="middle" font-size="7.85" fill="#4D4D4D" stroke="#4D4D4D" stroke-width="0.1">25%</text>
<rect x="543" y="225.22" width="1" height="3.7" fill="#333333" fill-opacity="0.019"/><rect x="544" y="225.22" width="1" height="3.7" fill="#333333" fill-opacity="0.560"/><rect x="545" y="225.22" width="1" height="3.7" fill="#333333" fill-opacity="0.638"/><rect x="546" y="225.22" width="1" height="3.7" fill="#333333" fill-opacity="0.033"/>
<text transform="translate(545.05,238.92) scale(1,1.12)" text-anchor="middle" font-size="7.85" fill="#4D4D4D" stroke="#4D4D4D" stroke-width="0.1">50%</text>
<rect x="130" y="256.36" width="1" height="88.51" fill="#EBEBEB" fill-opacity="0.375"/><rect x="131" y="256.36" width="1" height="88.51" fill="#EBEBEB" fill-opacity="0.922"/><rect x="132" y="256.36" width="1" height="88.51" fill="#EBEBEB" fill-opacity="0.297"/><rect x="141" y="256.36" width="1" height="88.51" fill="#EBEBEB" fill-opacity="0.375"/><rect x="142" y="256.36" width="1" height="88.51" fill="#EBEBEB" fill-opacity="0.922"/><rect x="143" y="256.36" width="1" height="88.51" fill="#EBEBEB" fill-opacity="0.297"/><rect x="152" y="256.36" width="1" height="88.51" fill="#EBEBEB" fill-opacity="0.375"/><rect x="153" y="256.36" width="1" height="88.51" fill="#EBEBEB" fill-opacity="0.922"/><rect x="154" y="256.36" width="1" height="88.51" fill="#EBEBEB" fill-opacity="0.297"/><rect x="163" y="256.36" width="1" height="88.51" fill="#EBEBEB" fill-opacity="0.375"/><rect x="164" y="256.36" width="1" height="88.51" fill="#EBEBEB" fill-opacity="0.922"/><rect x="165" y="256.36" width="1" height="88.51" fill="#EBEBEB" fill-opacity="0.297"/><rect x="174" y="256.36" width="1" height="88.51" fill="#EBEBEB" fill-opacity="0.375"/><rect x="175" y="256.36" width="1" height="88.51" fill="#EBEBEB" fill-opacity="0.922"/><rect x="176" y="256.36" width="1" height="88.51" fill="#EBEBEB" fill-opacity="0.297"/><rect x="185" y="256.36" width="1" height="88.51" fill="#EBEBEB" fill-opacity="0.375"/><rect x="186" y="256.36" width="1" height="88.51" fill="#EBEBEB" fill-opacity="0.922"/><rect x="187" y="256.36" width="1" height="88.51" fill="#EBEBEB" fill-opacity="0.297"/><rect x="196" y="256.36" width="1" height="88.51" fill="#EBEBEB" fill-opacity="0.375"/><rect x="197" y="256.36" width="1" height="88.51" fill="#EBEBEB" fill-opacity="0.922"/><rect x="198" y="256.36" width="1" height="88.51" fill="#EBEBEB" fill-opacity="0.297"/><rect x="207" y="256.36" width="1" height="88.51" fill="#EBEBEB" fill-opacity="0.375"/><rect x="208" y="256.36" width="1" height="88.51" fill="#EBEBEB" fill-opacity="0.922"/><rect x="209" y="256.36" width="1" height="88.51" fill="#EBEBEB" fill-opacity="0.297"/><rect x="218" y="256.36" width="1" height="88.51" fill="#EBEBEB" fill-opacity="0.375"/><rect x="219" y="256.36" width="1" height="88.51" fill="#EBEBEB" fill-opacity="0.922"/><rect x="220" y="256.36" width="1" height="88.51" fill="#EBEBEB" fill-opacity="0.297"/><rect x="229" y="256.36" width="1" height="88.51" fill="#EBEBEB" fill-opacity="0.375"/><rect x="230" y="256.36" width="1" height="88.51" fill="#EBEBEB" fill-opacity="0.922"/><rect x="231" y="256.36" width="1" height="88.51" fill="#EBEBEB" fill-opacity="0.297"/><rect x="240" y="256.36" width="1" height="88.51" fill="#EBEBEB" fill-opacity="0.375"/><rect x="241" y="256.36" width="1" height="88.51" fill="#EBEBEB" fill-opacity="0.922"/><rect x="242" y="256.36" width="1" height="88.51" fill="#EBEBEB" fill-opacity="0.297"/><rect x="251" y="256.36" width="1" height="88.51" fill="#EBEBEB" fill-opacity="0.375"/><rect x="252" y="256.36" width="1" height="88.51" fill="#EBEBEB" fill-opacity="0.922"/><rect x="253" y="256.36" width="1" height="88.51" fill="#EBEBEB" fill-opacity="0.297"/><rect x="115.79" y="264" width="142.91" height="1" fill="#EBEBEB" fill-opacity="0.166"/><rect x="115.79" y="265" width="142.91" height="1" fill="#EBEBEB" fill-opacity="0.875"/><rect x="115.79" y="266" width="142.91" height="1" fill="#EBEBEB" fill-opacity="0.542"/><rect x="115.79" y="267" width="142.91" height="1" fill="#EBEBEB" fill-opacity="0.016"/><rect x="115.79" y="281" width="142.91" height="1" fill="#EBEBEB" fill-opacity="0.077"/><rect x="115.79" y="282" width="142.91" height="1" fill="#EBEBEB" fill-opacity="0.772"/><rect x="115.79" y="283" width="142.91" height="1" fill="#EBEBEB" fill-opacity="0.702"/><rect x="115.79" y="284" width="142.91" height="1" fill="#EBEBEB" fill-opacity="0.049"/><rect x="115.79" y="298" width="142.91" height="1" fill="#EBEBEB" fill-opacity="0.029"/><rect x="115.79" y="299" width="142.91" height="1" fill="#EBEBEB" fill-opacity="0.625"/><rect x="115.79" y="300" width="142.91" height="1" fill="#EBEBEB" fill-opacity="0.830"/><rect x="115.79" y="301" width="142.91" height="1" fill="#EBEBEB" fill-opacity="0.116"/><rect x="115.79" y="316" width="142.91" height="1" fill="#EBEBEB" fill-opacity="0.458"/><rect x="115.79" y="317" width="142.91" height="1" fill="#EBEBEB" fill-opacity="0.906"/><rect x="115.79" y="318" width="142.91" height="1" fill="#EBEBEB" fill-opacity="0.226"/><rect x="115.79" y="333" width="142.91" height="1" fill="#EBEBEB" fill-opacity="0.297"/><rect x="115.79" y="334" width="142.91" height="1" fill="#EBEBEB" fill-opacity="0.922"/><rect x="115.79" y="335" width="142.91" height="1" fill="#EBEBEB" fill-opacity="0.375"/>
<rect x="184.88" y="258.16" width="12.57" height="15.48" fill="#F8766D"/>
<rect x="197.45" y="258.16" width="33" height="15.48" fill="#00BFC4"/>
<rect x="122.02" y="275.36" width="75.43" height="15.48" fill="#F8766D"/>
<rect x="197.45" y="275.36" width="22" height="15.48" fill="#00BFC4"/>
<rect x="197.45" y="292.56" width="33" height="15.48" fill="#00BFC4"/>
<rect x="114" y="255.86" width="1" height="89.71" fill="#333333" fill-opacity="0.024"/><rect x="115" y="255.86" width="1" height="89.71" fill="#333333" fill-opacity="0.576"/><rect x="116" y="255.86" width="1" height="89.71" fill="#333333" fill-opacity="0.269"/>
<rect x="257" y="255.86" width="1" height="89.71" fill="#333333" fill-opacity="0.030"/><rect x="258" y="255.86" width="1" height="89.71" fill="#333333" fill-opacity="0.827"/><rect x="259" y="255.86" width="1" height="89.71" fill="#333333" fill-opacity="0.274"/>
<rect x="115.34" y="255" width="143.91" height="1" fill="#333333" fill-opacity="0.192"/><rect x="115.34" y="256" width="143.91" height="1" fill="#333333" fill-opacity="0.780"/><rect x="115.34" y="257" width="143.91" height="1" fill="#333333" fill-opacity="0.048"/>
<rect x="115.34" y="343" width="143.91" height="1" fill="#333333" fill-opacity="0.065"/><rect x="115.34" y="344" width="143.91" height="1" fill="#333333" fill-opacity="0.738"/><rect x="115.34" y="345" width="143.91" height="1" fill="#333333" fill-opacity="0.541"/><rect x="115.34" y="346" width="143.91" height="1" fill="#333333" fill-opacity="0.016"/>
<text transform="translate(187.25,248.81) scale(1,1.1)" text-anchor="middle" font-size="9.2" fill="#1A1A1A">G</text>
<rect x="111" y="264" width="4.39" height="1" fill="#333333" fill-opacity="0.043"/><rect x="111" y="265" width="4.39" height="1" fill="#333333" fill-opacity="0.674"/><rect x="111" y="266" width="4.39" height="1" fill="#333333" fill-opacity="0.519"/><rect x="111" y="267" width="4.39" height="1" fill="#333333" fill-opacity="0.014"/>
<text transform="translate(108,269.4) scale(1,1.12)" text-anchor="end" font-size="7.85" fill="#4D4D4D" stroke="#4D4D4D" stroke-width="0.1">Strongly agree</text>
<rect x="111" y="281" width="4.39" height="1" fill="#333333" fill-opacity="0.014"/><rect x="111" y="282" width="4.39" height="1" fill="#333333" fill-opacity="0.519"/><rect x="111" y="283" width="4.39" height="1" fill="#333333" fill-opacity="0.674"/><rect x="111" y="284" width="4.39" height="1" fill="#333333" fill-opacity="0.043"/>
<text transform="translate(108,286.6) scale(1,1.12)" text-anchor="end" font-size="7.85" fill="#4D4D4D" stroke="#4D4D4D" stroke-width="0.1">Somewhat agree</text>
<rect x="111" y="299" width="4.39" height="1" fill="#333333" fill-opacity="0.354"/><rect x="111" y="300" width="4.39" height="1" fill="#333333" fill-opacity="0.787"/><rect x="111" y="301" width="4.39" height="1" fill="#333333" fill-opacity="0.105"/>
<text transform="translate(108,303.8) scale(1,1.12)" text-anchor="end" font-size="7.85" fill="#4D4D4D" stroke="#4D4D4D" stroke-width="0.1">Neither agree nor disagree</text>
<rect x="111" y="316" width="4.39" height="1" fill="#333333" fill-opacity="0.210"/><rect x="111" y="317" width="4.39" height="1" fill="#333333" fill-opacity="0.828"/><rect x="111" y="318" width="4.39" height="1" fill="#333333" fill-opacity="0.210"/>
<text transform="translate(108,321) scale(1,1.12)" text-anchor="end" font-size="7.85" fill="#4D4D4D" stroke="#4D4D4D" stroke-width="0.1">Somewhat disagree</text>
<rect x="111" y="333" width="4.39" height="1" fill="#333333" fill-opacity="0.105"/><rect x="111" y="334" width="4.39" height="1" fill="#333333" fill-opacity="0.787"/><rect x="111" y="335" width="4.39" height="1" fill="#333333" fill-opacity="0.354"/>
<text transform="translate(108,338.2) scale(1,1.12)" text-anchor="end" font-size="7.85" fill="#4D4D4D" stroke="#4D4D4D" stroke-width="0.1">Strongly disagree</text>
<rect x="152" y="345.47" width="1" height="3.7" fill="#333333" fill-opacity="0.243"/><rect x="153" y="345.47" width="1" height="3.7" fill="#333333" fill-opacity="0.826"/><rect x="154" y="345.47" width="1" height="3.7" fill="#333333" fill-opacity="0.180"/>
<text transform="translate(153.45,358.77) scale(1,1.12)" text-anchor="middle" font-size="7.85" fill="#4D4D4D" stroke="#4D4D4D" stroke-width="0.1">50%</text>
<rect x="174" y="345.47" width="1" height="3.7" fill="#333333" fill-opacity="0.243"/><rect x="175" y="345.47" width="1" height="3.7" fill="#333333" fill-opacity="0.826"/><rect x="176" y="345.47" width="1" height="3.7" fill="#333333" fill-opacity="0.180"/>
<text transform="translate(175.45,358.77) scale(1,1.12)" text-anchor="middle" font-size="7.85" fill="#4D4D4D" stroke="#4D4D4D" stroke-width="0.1">25%</text>
<rect x="196" y="345.47" width="1" height="3.7" fill="#333333" fill-opacity="0.243"/><rect x="197" y="345.47" width="1" height="3.7" fill="#333333" fill-opacity="0.826"/><rect x="198" y="345.47" width="1" height="3.7" fill="#333333" fill-opacity="0.180"/>
<text transform="translate(197.45,358.77) scale(1,1.12)" text-anchor="middle" font-size="7.85" fill="#4D4D4D" stroke="#4D4D4D" stroke-width="0.1">0</text>
<rect x="218" y="345.47" width="1" height="3.7" fill="#333333" fill-opacity="0.243"/><rect x="219" y="345.47" width="1" height="3.7" fill="#333333" fill-opacity="0.826"/><rect x="220" y="345.47" width="1" height="3.7" fill="#333333" fill-opacity="0.180"/>
<text transform="translate(219.45,358.77) scale(1,1.12)" text-anchor="middle" font-size="7.85" fill="#4D4D4D" stroke="#4D4D4D" stroke-width="0.1">25%</text>
<rect x="240" y="345.47" width="1" height="3.7" fill="#333333" fill-opacity="0.243"/><rect x="241" y="345.47" width="1" height="3.7" fill="#333333" fill-opacity="0.826"/><rect x="242" y="345.47" width="1" height="3.7" fill="#333333" fill-opacity="0.180"/>
<text transform="translate(241.45,358.77) scale(1,1.12)" text-anchor="middle" font-size="7.85" fill="#4D4D4D" stroke="#4D4D4D" stroke-width="0.1">50%</text>
<text transform="translate(339,372) scale(1,1.06)" text-anchor="middle" font-size="9.4" fill="#000">Percentage of answers</text>
<text transform="translate(8.5,180.6) rotate(-90) scale(1,1.06)" text-anchor="middle" font-size="9.4" fill="#000">Answers</text>
<text transform="translate(588.7,154.9) scale(1,1.06)" font-size="9.4" fill="#000">Measurement moment</text>
<rect x="589.1" y="160.9" width="24.9" height="24.8" fill="#F8766D"/>
<rect x="589.1" y="187.8" width="24.9" height="24.7" fill="#00BFC4"/>
<text transform="translate(620,176.6) scale(1,1.1)" font-size="7.8" fill="#000">Before</text>
<text transform="translate(620,203.7) scale(1,1.1)" font-size="7.8" fill="#000">After</text>
</svg>
</body></html>
